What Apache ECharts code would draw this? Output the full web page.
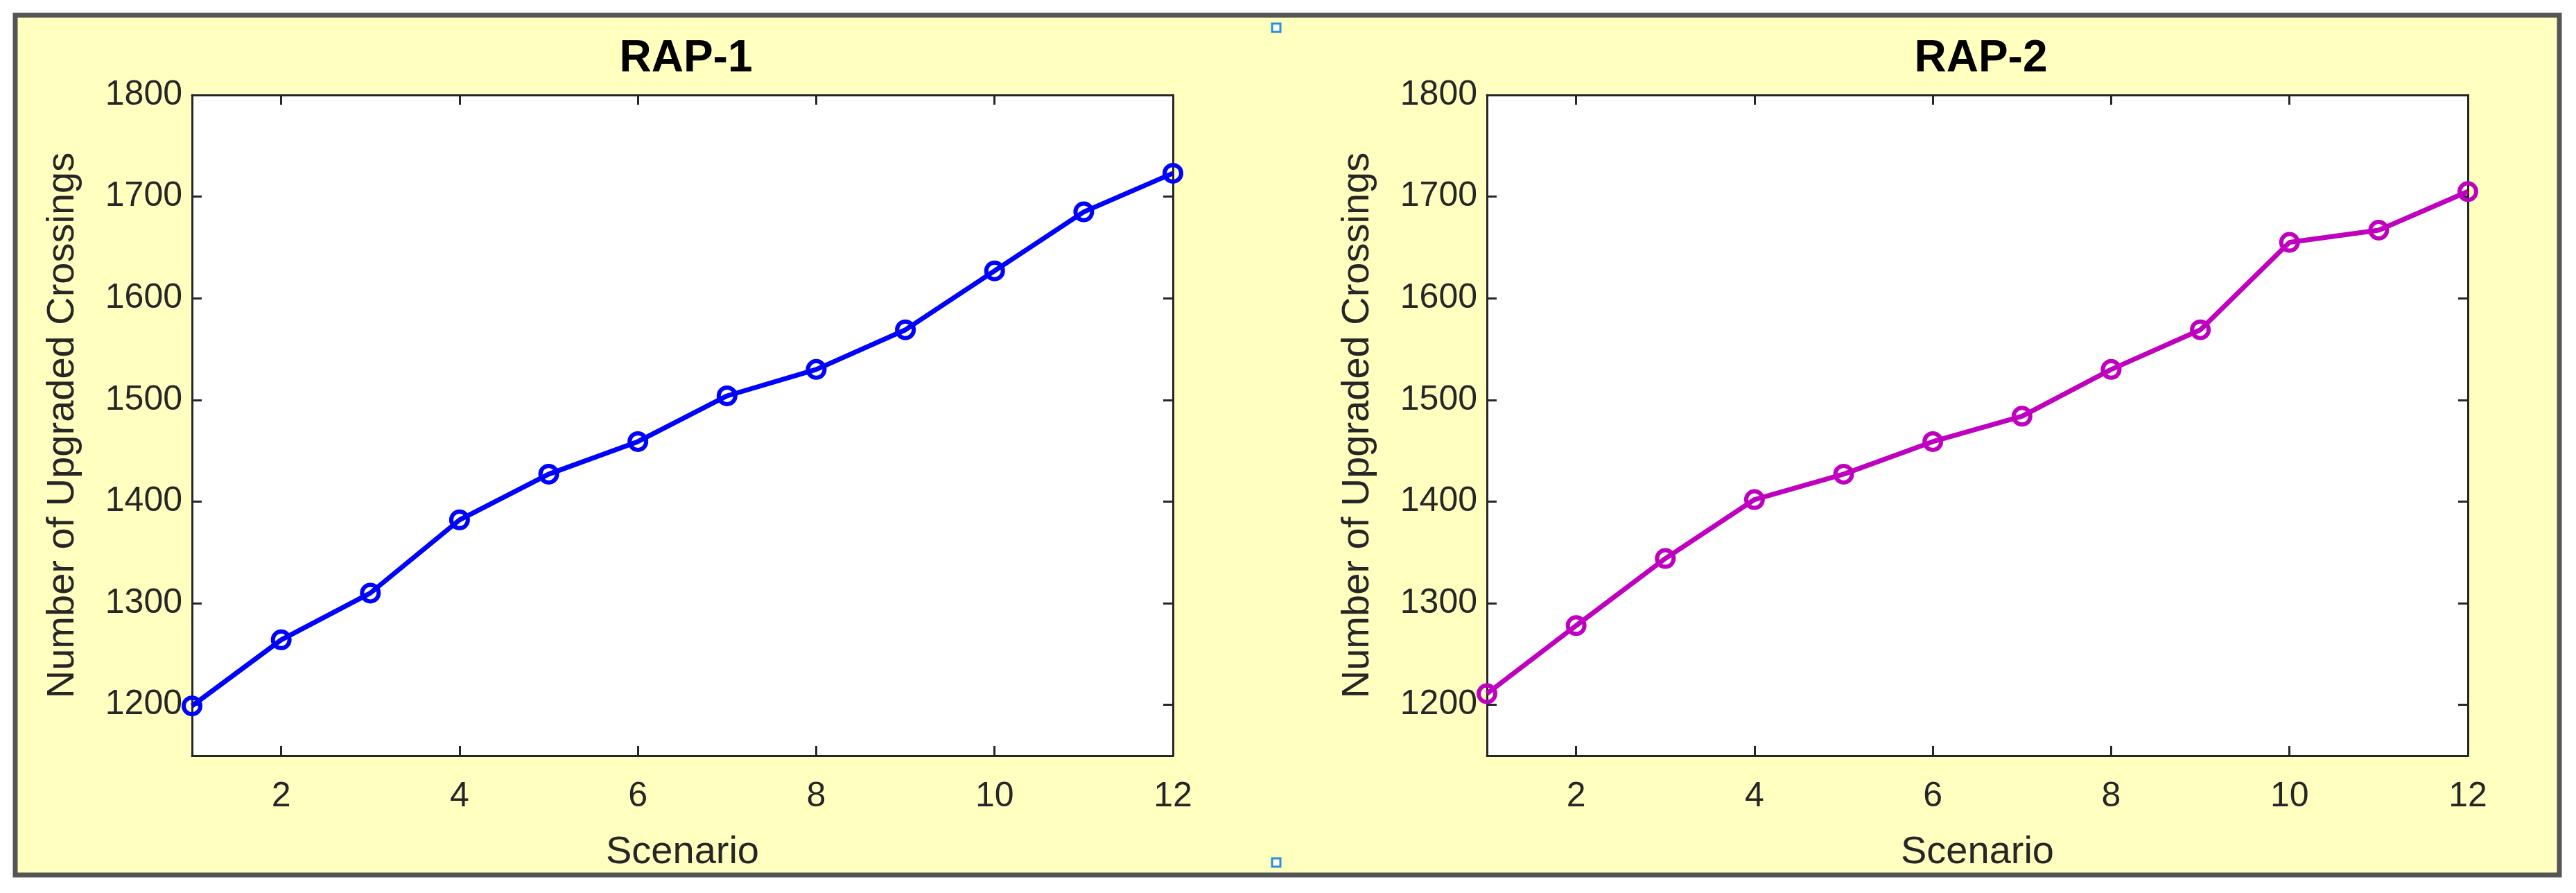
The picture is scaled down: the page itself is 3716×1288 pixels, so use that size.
<!DOCTYPE html>
<html>
<head>
<meta charset="utf-8">
<script src="https://cdn.jsdelivr.net/npm/echarts@6/dist/echarts.min.js"></script>
<style>
  html, body { margin: 0; padding: 0; background: #fff; }
  #chart { width: 3716px; height: 1288px; }
</style>
</head>
<body>
<div id="chart"></div>
<script>
// scenarios 1..12
const scenarios = [1, 2, 3, 4, 5, 6, 7, 8, 9, 10, 11, 12];
const rap1 = [1199, 1264, 1310, 1382, 1427, 1459, 1504, 1530, 1569, 1627, 1685, 1723];
const rap2 = [1211, 1278, 1344, 1402, 1427, 1459, 1484, 1530, 1569, 1655, 1667, 1705];
const xTicks = [2, 4, 6, 8, 10, 12];
const yTicks = [1200, 1300, 1400, 1500, 1600, 1700, 1800];
const titles = ["RAP-1", "RAP-2"];

const font = "Liberation Sans, Arial, sans-serif";
const grids = [
  { left: 277, top: 137, width: 1415, height: 953 },
  { left: 2145, top: 137, width: 1415, height: 953 }
];

let chart = echarts.init(document.getElementById("chart"), null, { renderer: "canvas" });

function xAx(i, pos) {
  const main = pos === "bottom";
  return {
    type: "value", gridIndex: i, position: pos, min: 1, max: 12,
    name: main ? "Scenario" : "", nameLocation: "middle", nameGap: 112,
    nameTextStyle: { fontFamily: font, fontSize: 56, color: "#262626" },
    axisLine: { show: true, onZero: false, lineStyle: { color: "#262626", width: 3 } },
    axisTick: { show: true, inside: true, length: 14, customValues: xTicks, lineStyle: { color: "#262626", width: 3 } },
    axisLabel: { show: main, customValues: xTicks, margin: 34, fontFamily: font, fontSize: 50, color: "#262626" },
    splitLine: { show: false }
  };
}
function yAx(i, pos) {
  const main = pos === "left";
  return {
    type: "value", gridIndex: i, position: pos, min: 1150, max: 1800,
    name: main ? "Number of Upgraded Crossings" : "", nameLocation: "middle", nameGap: 158,
    nameTextStyle: { fontFamily: font, fontSize: 56, color: "#262626" },
    axisLine: { show: true, onZero: false, lineStyle: { color: "#262626", width: 3 } },
    axisTick: { show: true, inside: true, length: 14, customValues: yTicks, lineStyle: { color: "#262626", width: 3 } },
    axisLabel: { show: main, customValues: yTicks, margin: 14, fontFamily: font, fontSize: 50, color: "#262626",
      formatter: v => String(v) },
    splitLine: { show: false }
  };
}

const colors = ["#0000ff", "#bf00bf"];
const datas = [rap1, rap2];

let option = {
  backgroundColor: "#ffffff",
  animation: false,
  graphic: [
    { type: "rect", z: -10, shape: { x: 22, y: 22, width: 3670, height: 1240 },
      style: { fill: "#ffffc0", stroke: "#555555", lineWidth: 7 } },
    { type: "rect", z: 10, shape: { x: 1835, y: 34, width: 12, height: 12 },
      style: { fill: "#ffffff", stroke: "#2a8fd6", lineWidth: 3 } },
    { type: "rect", z: 10, shape: { x: 1835, y: 1238, width: 12, height: 12 },
      style: { fill: "#ffffff", stroke: "#2a8fd6", lineWidth: 3 } }
  ],
  title: titles.map((t, i) => ({
    text: t, left: grids[i].left + grids[i].width / 2, top: 48, textAlign: "center",
    textStyle: { fontFamily: font, fontSize: 64, fontWeight: "bold", color: "#000" }
  })),
  grid: grids.map(g => Object.assign({ show: true, backgroundColor: "#ffffff", borderWidth: 0 }, g)),
  xAxis: [xAx(0, "bottom"), xAx(0, "top"), xAx(1, "bottom"), xAx(1, "top")],
  yAxis: [yAx(0, "left"), yAx(0, "right"), yAx(1, "left"), yAx(1, "right")],
  series: datas.map((d, i) => ({
    type: "line",
    xAxisIndex: i * 2, yAxisIndex: i * 2,
    data: scenarios.map((s, k) => [s, d[k]]),
    symbol: "circle", symbolSize: 24,
    itemStyle: { color: "rgba(0,0,0,0)", borderColor: colors[i], borderWidth: 6 },
    lineStyle: { color: colors[i], width: 7 },
    clip: false
  }))
};

chart.setOption(option);
</script>
</body>
</html>
